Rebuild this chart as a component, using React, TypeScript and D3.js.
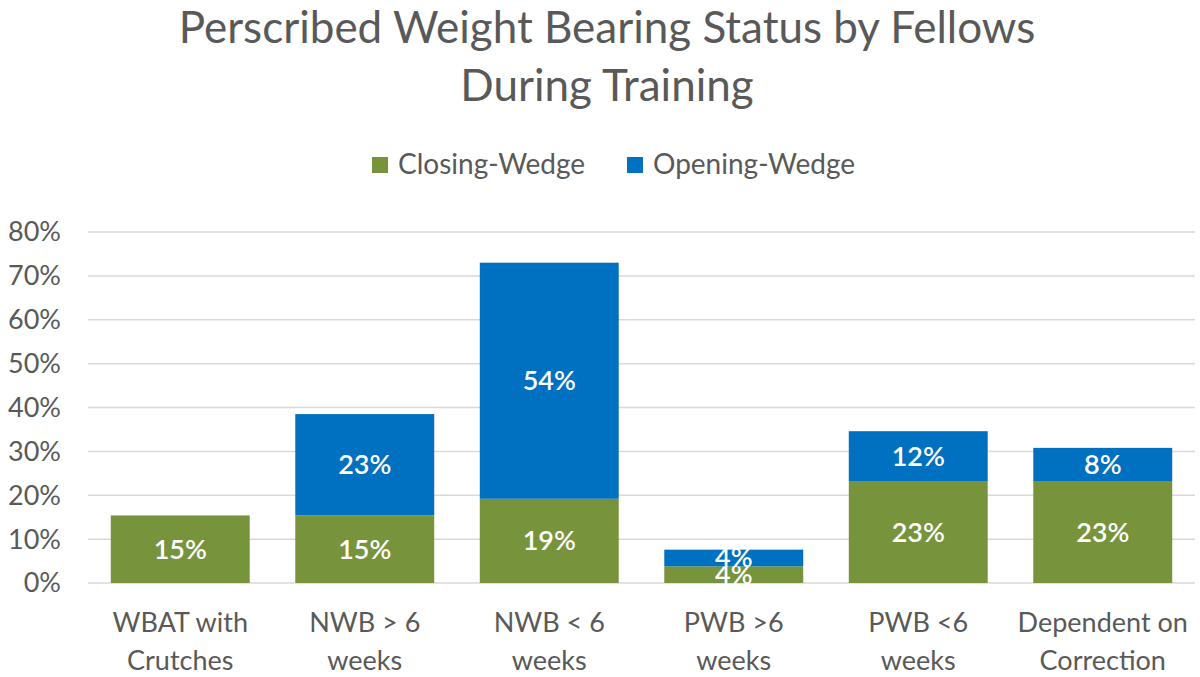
import React from 'react';
import * as d3 from 'd3';

const categories = [
  ['WBAT with', 'Crutches'],
  ['NWB > 6', 'weeks'],
  ['NWB < 6', 'weeks'],
  ['PWB >6', 'weeks'],
  ['PWB <6', 'weeks'],
  ['Dependent on', 'Correction'],
];
const closingWedge = [0.154, 0.154, 0.192, 0.038, 0.231, 0.231];
const openingWedge = [0, 0.231, 0.538, 0.038, 0.115, 0.077];
const yTicks = [0, 0.1, 0.2, 0.3, 0.4, 0.5, 0.6, 0.7, 0.8];
const seriesNames = ['Closing-Wedge', 'Opening-Wedge'];
const seriesColors = ['#77933C', '#0070C0'];

const FONT = 'Lato, "Open Sans", sans-serif';
const TEXT = '#595959';

const App: React.FC = () => {
  const width = 1200;
  const height = 677;
  const plot = { left: 88, right: 1195, top: 232, bottom: 583 };

  const keys = categories.map((c) => c.join(' '));
  const x = d3
    .scaleBand<string>()
    .domain(keys)
    .range([plot.left, plot.right])
    .paddingInner(0.247)
    .paddingOuter(0.1235);
  const y = d3.scaleLinear().domain([0, 0.8]).range([plot.bottom, plot.top]);
  const pct = d3.format('.0%');

  const rows = keys.map((k, i) => ({ key: k, closing: closingWedge[i], opening: openingWedge[i] }));
  const stacked = d3.stack<any>().keys(['closing', 'opening'])(rows);

  return (
    <svg width={width} height={height} style={{ position: 'absolute', left: 0, top: 0 }} fontFamily={FONT}>
      <rect width={width} height={height} fill="#fff" />

      {/* title */}
      <text x={607} y={43} textAnchor="middle" fontSize={44} fill={TEXT}>
        Perscribed Weight Bearing Status by Fellows
      </text>
      <text x={607} y={101} textAnchor="middle" fontSize={44} fill={TEXT}>
        During Training
      </text>

      {/* legend */}
      {seriesNames.map((name, i) => {
        const lx = i === 0 ? 372 : 627;
        return (
          <g key={name}>
            <rect x={lx} y={157} width={16} height={16} fill={seriesColors[i]} />
            <text x={lx + 26} y={174} fontSize={28} fill={TEXT}>
              {name}
            </text>
          </g>
        );
      })}

      {/* grid + y axis */}
      {yTicks.map((t) => (
        <g key={t}>
          <line x1={plot.left} x2={plot.right} y1={y(t)} y2={y(t)} stroke="#d9d9d9" strokeWidth={1.5} />
          <text x={61} y={y(t)} dy="0.35em" textAnchor="end" fontSize={27} fill={TEXT}>
            {pct(t)}
          </text>
        </g>
      ))}

      {/* bars */}
      {stacked.map((layer, si) => (
        <g key={layer.key} fill={seriesColors[si]}>
          {layer.map((d, i) => {
            const h = y(d[0]) - y(d[1]);
            if (h <= 0) return null;
            return (
              <g key={i}>
                <rect x={x(keys[i])} y={y(d[1])} width={x.bandwidth()} height={h} />
                <text
                  x={(x(keys[i]) as number) + x.bandwidth() / 2}
                  y={(y(d[0]) + y(d[1])) / 2}
                  dy="0.35em"
                  textAnchor="middle"
                  fontSize={27}
                  fontWeight={600}
                  fill="#fff"
                >
                  {pct(d[1] - d[0])}
                </text>
              </g>
            );
          })}
        </g>
      ))}

      {/* x labels */}
      {categories.map((c, i) => (
        <text
          key={keys[i]}
          x={(x(keys[i]) as number) + x.bandwidth() / 2}
          textAnchor="middle"
          fontSize={27}
          fill={TEXT}
        >
          <tspan x={(x(keys[i]) as number) + x.bandwidth() / 2} y={632}>
            {c[0]}
          </tspan>
          <tspan x={(x(keys[i]) as number) + x.bandwidth() / 2} y={670}>
            {c[1]}
          </tspan>
        </text>
      ))}
    </svg>
  );
};

export default App;
